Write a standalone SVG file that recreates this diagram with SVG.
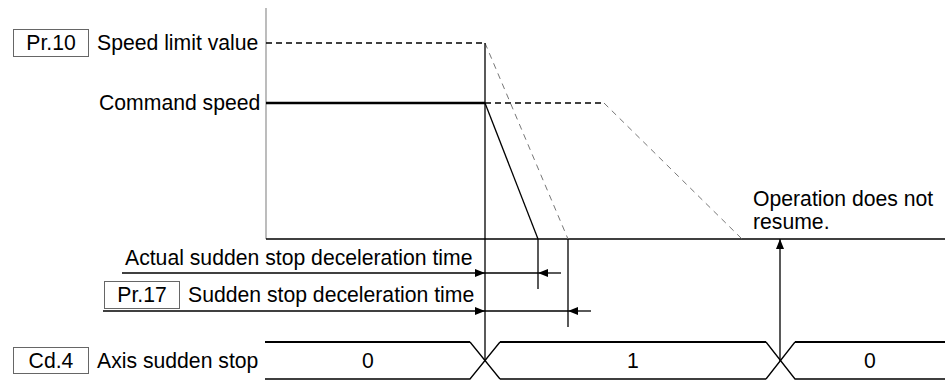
<svg xmlns="http://www.w3.org/2000/svg" width="945" height="380" viewBox="0 0 945 380">
<defs>
<style>
text{font-family:"Liberation Sans",Arial,sans-serif;font-size:21.2px;fill:#000}
.box{fill:#fff;stroke:#666;stroke-width:1}
.ln{stroke:#000;stroke-width:1.3;fill:none}
.thick{stroke:#000;stroke-width:2.6;fill:none}
.dash{stroke:#000;stroke-width:1.3;stroke-dasharray:6 4;fill:none}
.gdash{stroke:#777;stroke-width:1;stroke-dasharray:6 5;fill:none}
.axis{stroke:#999;stroke-width:1.3;fill:none}
</style>
<marker id="ah" viewBox="0 0 10 8" refX="10" refY="4" markerWidth="10" markerHeight="8" markerUnits="userSpaceOnUse" orient="auto">
<path d="M0,0 L10,4 L0,8 z" fill="#000"/>
</marker>
</defs>
<g id="labels">
<g id="pr10"><rect class="box" x="13.5" y="29.5" width="75" height="27"/><text x="51" y="50" text-anchor="middle">Pr.10</text><text x="97" y="50">Speed limit value</text></g>
<g id="cmd"><text x="99" y="110">Command speed</text></g>
<g id="actual"><text x="125" y="265">Actual sudden stop deceleration time</text></g>
<g id="pr17"><rect class="box" x="104.5" y="281.5" width="75" height="27"/><text x="142" y="302" text-anchor="middle">Pr.17</text><text x="188" y="302">Sudden stop deceleration time</text></g>
<g id="cd4"><rect class="box" x="13.5" y="347.5" width="75" height="26"/><text x="51" y="368" text-anchor="middle">Cd.4</text><text x="97" y="368">Axis sudden stop</text></g>
<g id="note"><text x="753" y="206">Operation does not</text><text x="753" y="229">resume.</text></g>
</g>
<g id="connectors">
<line class="axis" x1="266" y1="8" x2="266" y2="239"/>
<line class="ln" x1="266" y1="239" x2="945" y2="239"/>
<line class="dash" x1="266" y1="43" x2="485" y2="43"/>
<line class="thick" x1="266" y1="103" x2="485" y2="103"/>
<line class="dash" x1="485" y1="103" x2="604" y2="103"/>
<line class="gdash" x1="485" y1="43" x2="568" y2="239"/>
<line class="gdash" x1="604" y1="103" x2="742" y2="239"/>
<line class="ln" x1="485" y1="103" x2="538" y2="239"/>
<line class="ln" x1="485" y1="43" x2="485" y2="361"/>
<line class="ln" x1="538" y1="239" x2="538" y2="289"/>
<line class="ln" x1="568" y1="239" x2="568" y2="327"/>
<line class="ln" x1="122" y1="273" x2="485" y2="273" marker-end="url(#ah)"/>
<line class="ln" x1="561" y1="273" x2="538" y2="273" marker-end="url(#ah)"/>
<line class="ln" x1="485" y1="273" x2="538" y2="273"/>
<line class="ln" x1="103" y1="311" x2="485" y2="311" marker-end="url(#ah)"/>
<line class="ln" x1="591" y1="311" x2="568" y2="311" marker-end="url(#ah)"/>
<line class="ln" x1="485" y1="311" x2="568" y2="311"/>
<line class="ln" x1="780" y1="361" x2="780" y2="239" marker-end="url(#ah)"/>
</g>
<g id="signal">
<path class="ln" d="M470,342 L500,379 M766,379 L795,342"/>
<path class="ln" d="M265,379 H470 L500,342 M766,342 L795,379 H945 M500,379 H766"/>
<path d="M265,342 H470 M500,342 H766 M795,342 H945" class="ln" style="stroke-width:2.2"/>
<text x="368" y="368" text-anchor="middle">0</text>
<text x="633" y="368" text-anchor="middle">1</text>
<text x="870" y="368" text-anchor="middle">0</text>
</g>
</svg>
